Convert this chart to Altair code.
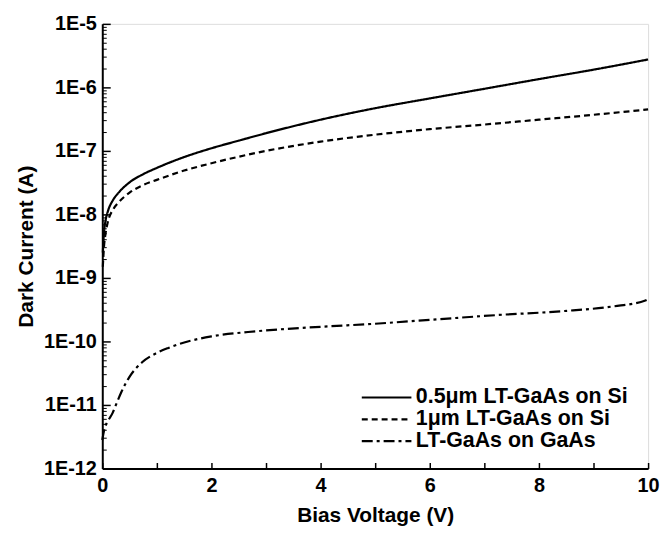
import altair as alt
import pandas as pd

# ---- data ----
names = ["0.5\u03bcm LT-GaAs on Si", "1\u03bcm LT-GaAs on Si", "LT-GaAs on GaAs"]

v_thin = [0.01, 0.03, 0.06, 0.1, 0.2, 0.3, 0.5, 0.75, 1.0, 1.5, 2.0, 2.5, 3.0, 4.0, 5.0, 6.0, 7.0, 8.0, 9.0, 10.0]
i_thin = [2.5e-9, 5e-9, 8e-9, 1.1e-8, 1.7e-8, 2.2e-8, 3.2e-8, 4.3e-8, 5.4e-8, 8e-8, 1.1e-7, 1.45e-7,
          1.9e-7, 3.1e-7, 4.7e-7, 6.7e-7, 9.5e-7, 1.35e-6, 1.9e-6, 2.75e-6]

v_thick = [0.01, 0.03, 0.06, 0.1, 0.2, 0.3, 0.5, 0.75, 1.0, 1.5, 2.0, 2.5, 3.0, 4.0, 5.0, 6.0, 7.0, 8.0, 9.0, 10.0]
i_thick = [1.5e-9, 3e-9, 5e-9, 7.5e-9, 1.2e-8, 1.55e-8, 2.2e-8, 2.9e-8, 3.5e-8, 4.9e-8, 6.4e-8, 8.1e-8,
           1.0e-7, 1.4e-7, 1.8e-7, 2.2e-7, 2.6e-7, 3.1e-7, 3.7e-7, 4.5e-7]

v_gaas = [0.0, 0.04, 0.1, 0.19, 0.25, 0.35, 0.49, 0.73, 1.0, 1.21, 1.63, 2.0, 2.84, 4.0, 5.0, 6.04, 7.23, 8.44, 9.35, 9.95, 10.0]
i_gaas = [2.8e-12, 4.2e-12, 5.5e-12, 7.5e-12, 1.0e-11, 1.6e-11, 2.7e-11, 4.7e-11, 6.6e-11, 7.9e-11, 1.03e-10,
          1.2e-10, 1.45e-10, 1.7e-10, 1.9e-10, 2.2e-10, 2.6e-10, 3.0e-10, 3.55e-10, 4.4e-10, 4.6e-10]

y_major = [1e-12, 1e-11, 1e-10, 1e-9, 1e-8, 1e-7, 1e-6, 1e-5]
y_minor = [m * 10.0 ** e for e in range(-12, -5) for m in range(2, 10)]
x_labels = [0, 2, 4, 6, 8, 10]
x_ticks = [0, 1, 2, 3, 4, 5, 6, 7, 8, 9, 10]

rows = []
for name, vs, cs in zip(names, [v_thin, v_thick, v_gaas], [i_thin, i_thick, i_gaas]):
    for v, c in zip(vs, cs):
        rows.append({"V": v, "I": c, "Sample": name})
df = pd.DataFrame(rows)

FONT = "Liberation Sans"
x_scale = alt.Scale(domain=[0, 10], nice=False, zero=False)
y_scale = alt.Scale(type="log", domain=[1e-12, 1e-5], nice=False)

base = alt.Chart(df)

lines = base.mark_line(color="black", strokeWidth=2.2, interpolate="monotone").encode(
    x=alt.X("V:Q", scale=x_scale,
            axis=alt.Axis(orient="bottom", values=x_labels, ticks=False, grid=False,
                          labelFlush=False, labelOverlap=False,
                          domainColor="black", domainWidth=2, labelFont=FONT, labelFontSize=20,
                          labelFontWeight="bold", labelColor="black", labelPadding=7,
                          title="Bias Voltage (V)", titleFont=FONT, titleFontSize=21,
                          titleFontWeight="bold", titleColor="black", titlePadding=9)),
    y=alt.Y("I:Q", scale=y_scale,
            axis=alt.Axis(orient="left", values=y_major, ticks=False, grid=False,
                          labelFlush=False, labelOverlap=False,
                          labelExpr="'1E' + round(log(datum.value) / LN10)",
                          domainColor="black", domainWidth=2, labelFont=FONT, labelFontSize=20,
                          labelFontWeight="bold", labelColor="black", labelPadding=6,
                          title="Dark Current (A)", titleFont=FONT, titleFontSize=21,
                          titleFontWeight="bold", titleColor="black", titlePadding=7)),
    strokeDash=alt.StrokeDash(
        "Sample:N",
        scale=alt.Scale(domain=names, range=[[1, 0], [6, 4], [11, 4, 3, 4]]),
        legend=alt.Legend(title=None, orient="none", legendX=275, legendY=365, padding=0,
                          symbolType="M-2.5,0H2.5", symbolStrokeWidth=2.2, symbolSize=400,
                          symbolStrokeColor="black", labelFont=FONT, labelFontSize=21.5,
                          labelFontWeight="bold", labelColor="black", labelOffset=18,
                          labelLimit=400, rowPadding=0)),
)

major_ticks = base.mark_line(opacity=0).encode(
    x=alt.X("V:Q", scale=x_scale,
            axis=alt.Axis(orient="bottom", values=x_ticks, offset=-6, tickSize=6, tickWidth=1.5,
                          tickColor="black", domain=False, labels=False, grid=False, title=None)),
    y=alt.Y("I:Q", scale=y_scale,
            axis=alt.Axis(orient="left", values=y_major, offset=-8, tickSize=8, tickWidth=1.5,
                          tickColor="black", domain=False, labels=False, grid=False, title=None)),
    detail="Sample:N",
)

minor_ticks = base.mark_line(opacity=0).encode(
    x=alt.X("V:Q", scale=x_scale, axis=None),
    y=alt.Y("I:Q", scale=y_scale,
            axis=alt.Axis(orient="left", values=y_minor, offset=-4, tickSize=4, tickWidth=1,
                          tickColor="black", domain=False, labels=False, grid=False, title=None)),
    detail="Sample:N",
)

chart = alt.layer(lines, major_ticks, minor_ticks).resolve_axis(
    x="independent", y="independent"
).properties(
    width=550, height=448,
    autosize=alt.AutoSizeParams(type="none"),
    padding={"left": 95, "top": 14, "right": 12, "bottom": 58},
).configure_view(
    stroke="black", strokeWidth=1.5
).configure(background="white")

chart.save("out.html", embed_options={"renderer": "svg", "actions": False})
